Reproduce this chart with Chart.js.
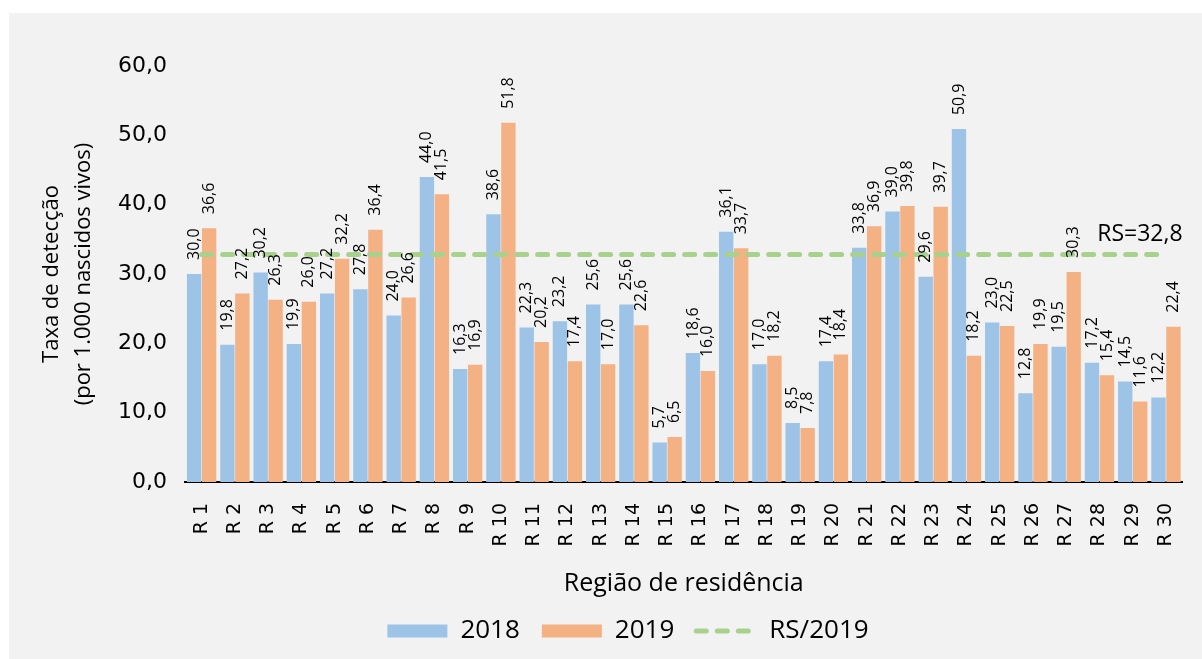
<!DOCTYPE html>
<html>
<head>
<meta charset="utf-8">
<script src="https://cdn.jsdelivr.net/npm/chart.js@4"></script>
<style>
  html, body { margin: 0; padding: 0; background: #ffffff; }
  #wrap { position: absolute; left: 9px; top: 13px; width: 1193px; height: 646px; background: #f2f2f2; }
</style>
</head>
<body>
<div id="wrap"><canvas id="chart" width="1193" height="646"></canvas></div>
<script>
const regioes = ["R 1", "R 2", "R 3", "R 4", "R 5", "R 6", "R 7", "R 8", "R 9", "R 10",
  "R 11", "R 12", "R 13", "R 14", "R 15", "R 16", "R 17", "R 18", "R 19", "R 20",
  "R 21", "R 22", "R 23", "R 24", "R 25", "R 26", "R 27", "R 28", "R 29", "R 30"];

const taxa2018 = [30.0, 19.8, 30.2, 19.9, 27.2, 27.8, 24.0, 44.0, 16.3, 38.6,
  22.3, 23.2, 25.6, 25.6, 5.7, 18.6, 36.1, 17.0, 8.5, 17.4,
  33.8, 39.0, 29.6, 50.9, 23.0, 12.8, 19.5, 17.2, 14.5, 12.2];

const taxa2019 = [36.6, 27.2, 26.3, 26.0, 32.2, 36.4, 26.6, 41.5, 16.9, 51.8,
  20.2, 17.4, 17.0, 22.6, 6.5, 16.0, 33.7, 18.2, 7.8, 18.4,
  36.9, 39.8, 39.7, 18.2, 22.5, 19.9, 30.3, 15.4, 11.6, 22.4];

// taxa do estado (RS) em 2019, repetida em todas as regiões
const taxaRS = 32.8;
const linhaRS = regioes.map(() => taxaRS);

const FONT = "'Open Sans', sans-serif";
const TICK_FONT = "'DejaVu Sans', sans-serif";
const fmt = v => v.toFixed(1).replace(".", ",");

// rótulos verticais acima de cada barra + valor do RS
const barLabels = {
  id: "barLabels",
  afterDatasetsDraw(chart) {
    const ctx = chart.ctx;
    ctx.save();
    ctx.font = "16px " + FONT;
    ctx.fillStyle = "#000";
    ctx.textAlign = "left";
    ctx.textBaseline = "middle";
    chart.data.datasets.forEach((ds, i) => {
      if (ds.type === "line") return;
      chart.getDatasetMeta(i).data.forEach((bar, j) => {
        ctx.save();
        ctx.translate(bar.x, bar.y - 14);
        ctx.rotate(-Math.PI / 2);
        ctx.fillText(fmt(ds.data[j]), 0, 0);
        ctx.restore();
      });
    });
    const y = chart.scales.y.getPixelForValue(taxaRS);
    ctx.font = "23px " + FONT;
    ctx.textAlign = "right";
    ctx.textBaseline = "alphabetic";
    ctx.fillText("RS=" + fmt(taxaRS), chart.chartArea.right, y - 14);
    ctx.restore();
  }
};

const DASH = [10, 11];

new Chart(document.getElementById("chart"), {
  data: {
    labels: regioes,
    datasets: [
      {
        type: "bar",
        label: "2018",
        data: taxa2018,
        backgroundColor: "#9dc3e6",
        order: 1
      },
      {
        type: "bar",
        label: "2019",
        data: taxa2019,
        backgroundColor: "#f4b183",
        order: 1
      },
      {
        type: "line",
        label: "RS/2019",
        data: linhaRS,
        borderColor: "#a9d18e",
        backgroundColor: "#a9d18e",
        borderWidth: 5,
        borderDash: DASH,
        borderCapStyle: "round",
        pointRadius: 0,
        order: 0
      }
    ]
  },
  options: {
    responsive: false,
    animation: false,
    layout: { padding: { top: 53, right: 14, bottom: 5, left: 59 } },
    datasets: {
      bar: { categoryPercentage: 0.9, barPercentage: 0.96 }
    },
    plugins: {
      legend: {
        position: "bottom",
        labels: {
          font: { family: FONT, size: 26 },
          color: "#000",
          usePointStyle: true,
          pointStyleWidth: 60,
          boxHeight: 13,
          padding: 22,
          generateLabels(chart) {
            return chart.data.datasets.map((ds, i) => {
              const isLine = ds.type === "line";
              return {
                text: ds.label,
                fillStyle: ds.backgroundColor,
                strokeStyle: isLine ? ds.borderColor : ds.backgroundColor,
                lineWidth: isLine ? 5 : 0,
                lineDash: isLine ? DASH : [],
                lineCap: "round",
                pointStyle: isLine ? "line" : "rect",
                datasetIndex: i,
                hidden: false
              };
            });
          }
        }
      },
      tooltip: { enabled: false }
    },
    scales: {
      x: {
        grid: { display: false },
        border: { display: true, color: "#000", width: 2 },
        ticks: {
          font: { family: TICK_FONT, size: 19 },
          color: "#000",
          minRotation: 90,
          maxRotation: 90,
          padding: 13
        },
        title: {
          display: true,
          text: "Região de residência",
          font: { family: FONT, size: 25 },
          color: "#000",
          padding: { top: 0, bottom: -3 }
        },
        afterFit(scale) { scale.height = 114; }
      },
      y: {
        min: 0,
        max: 60,
        grid: { display: false, drawTicks: false },
        border: { display: false },
        ticks: {
          stepSize: 10,
          font: { family: TICK_FONT, size: 22 },
          color: "#000",
          padding: 18,
          callback: v => fmt(v)
        },
        title: {
          display: true,
          text: ["Taxa de detecção", "(por 1.000 nascidos vivos)"],
          font: { family: FONT, size: 22, lineHeight: 1.45 },
          color: "#000",
          padding: { top: -32, bottom: 0 }
        },
        afterFit(scale) { scale.width = 117; }
      }
    }
  },
  plugins: [barLabels]
});
</script>
</body>
</html>
